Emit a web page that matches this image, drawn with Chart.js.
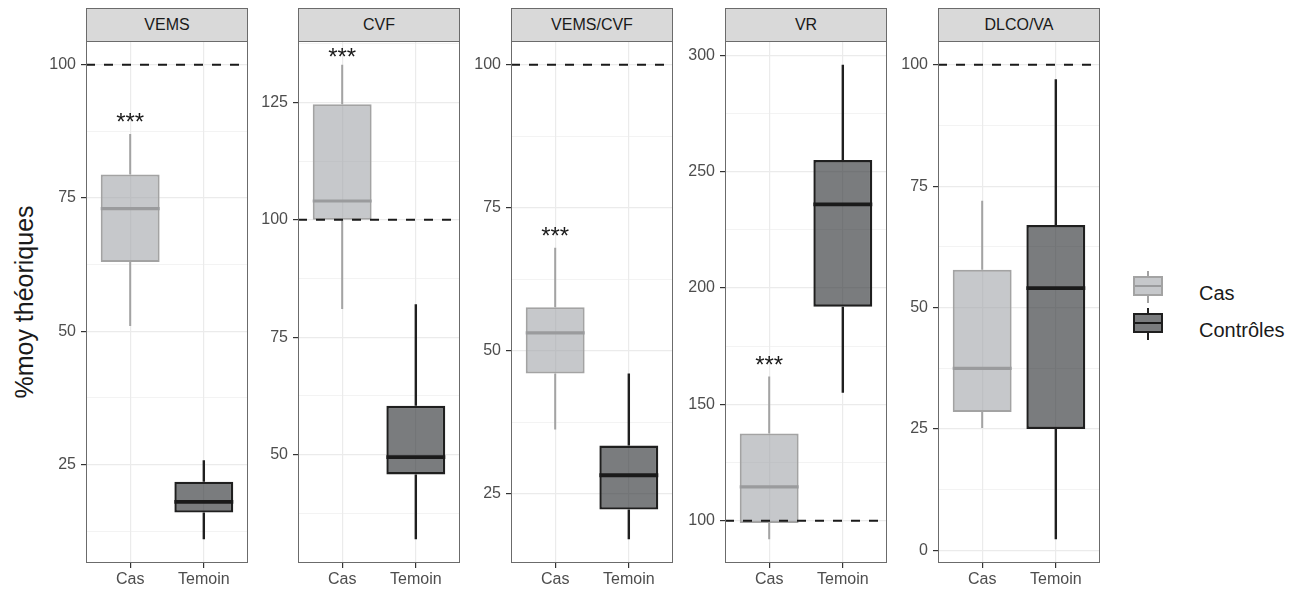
<!DOCTYPE html>
<html>
<head>
<meta charset="utf-8">
<script src="https://cdn.jsdelivr.net/npm/chart.js"></script>
<style>
  body { margin: 0; width: 1308px; height: 589px; background: #fff; position: relative; overflow: hidden;
         font-family: "Liberation Sans", Arial, sans-serif; }
  canvas { position: absolute; top: 0; }
  .strip { position: absolute; top: 8px; height: 34px; background: #d9d9d9; border: 1px solid #6b6b6b;
           box-sizing: border-box; text-align: center; line-height: 31px; font-size: 16px; color: #1a1a1a; }
  #ytitle { position: absolute; left: 24px; top: 302px; transform: translate(-50%, -50%) rotate(-90deg);
            white-space: nowrap; font-size: 25px; color: #1a1a1a; }
  .key { position: absolute; width: 30px; }
  .key .wh { position: absolute; left: 14px; width: 2px; }
  .key .bx { position: absolute; left: 0; width: 30px; box-sizing: border-box; }
  .key .md { position: absolute; left: 2px; width: 26px; height: 2px; }
  .lab { position: absolute; left: 1199px; font-size: 20px; color: #1a1a1a; transform: translateY(-50%); }
</style>
</head>
<body>
<div id="ytitle">%moy théoriques</div>

<script>
const panelNames = ['VEMS', 'CVF', 'VEMS/CVF', 'VR', 'DLCO/VA'];
const groups = ['Cas', 'Temoin'];
const legendLabels = ['Cas', 'Contrôles'];

// boxplot stats per panel: [whisker low, Q1, median, Q3, whisker high]
const casStats = [
  [51, 63, 73, 79.4, 87],
  [81, 100, 104, 124.6, 133],
  [36.2, 46, 53.1, 57.6, 68],
  [92, 99, 114.5, 137.5, 162],
  [25.2, 28.5, 37.5, 57.8, 72]
];
const temoinStats = [
  [11, 16, 18, 21.8, 25.8],
  [32, 45.8, 49.5, 60.4, 82],
  [17, 22.2, 28.2, 33.4, 46],
  [155, 192, 236, 255, 296],
  [2.3, 25, 54, 67, 97]
];
const refValue = 100;
const starLevels = [90, 135.5, 70.8, 168.5, null];
const yTickValues = [
  [25, 50, 75, 100],
  [50, 75, 100, 125],
  [25, 50, 75, 100],
  [100, 150, 200, 250, 300],
  [0, 25, 50, 75, 100]
];

// layout
const panelLefts = [86, 298, 511, 725, 938];
const panelW = 162, axisW = 50, plotTop = 41, plotBottom = 563, H = 589;
const xLim = [0.4, 2.6], boxWidth = 0.8;
const fontFamily = '"Liberation Sans", Arial, sans-serif';
const styles = [
  { fill: 'rgba(160,163,168,0.6)', line: '#a3a3a3', median: '#9a9b9d', lw: 2 },
  { fill: 'rgba(45,47,51,0.63)', line: '#1f1f1f', median: '#1a1a1a', lw: 2.4 }
];

function yRange(i) {
  const vals = casStats[i].concat(temoinStats[i], [refValue]);
  const lo = Math.min(...vals), hi = Math.max(...vals);
  const pad = (hi - lo) * 0.05;
  return [lo - pad, hi + pad];
}

function gridTicks(i, min, max) {
  const major = yTickValues[i];
  const step = major[1] - major[0];
  const out = major.map(v => ({ value: v }));
  [major[0] - step / 2].concat(major.map(v => v + step / 2))
    .filter(v => v > min && v < max)
    .forEach(v => out.push({ value: v, minor: true }));
  return out.sort((a, b) => a.value - b.value);
}

function boxSet(s, x, st) {
  return { type: 'bar', data: [{ x: x, y: [s[1], s[3]] }], backgroundColor: st.fill,
           borderColor: st.line, borderWidth: st.lw, borderSkipped: false, grouped: false,
           barPercentage: 1, categoryPercentage: boxWidth, order: 2 };
}
function whiskerSet(s, x, st) {
  return { type: 'line', data: [{ x: x, y: s[0] }, { x: x, y: s[1] }, { x: x, y: null }, { x: x, y: s[3] }, { x: x, y: s[4] }],
           borderColor: st.line, borderWidth: st.lw, pointRadius: 0, spanGaps: false, order: 3 };
}
function medianSet(s, x, st) {
  return { type: 'line', data: [{ x: x - boxWidth / 2, y: s[2] }, { x: x + boxWidth / 2, y: s[2] }],
           borderColor: st.median, borderWidth: st.lw * 1.6, pointRadius: 0, order: 1 };
}

const framePlugin = {
  id: 'frame',
  afterDraw(chart) {
    const a = chart.chartArea, ctx = chart.ctx;
    ctx.save();
    ctx.strokeStyle = '#6b6b6b';
    ctx.lineWidth = 1;
    ctx.strokeRect(a.left + 0.5, a.top + 0.5, a.right - a.left - 1, a.bottom - a.top - 1);
    ctx.restore();
  }
};

// significance marks above the "Cas" box
const starsPlugin = {
  id: 'stars',
  afterDatasetsDraw(chart, args, opts) {
    const v = starLevels[opts.panel];
    if (v == null) return;
    const ctx = chart.ctx, fs = 24;
    const x = chart.scales.x.getPixelForValue(1);
    const y = chart.scales.y.getPixelForValue(v);
    ctx.save();
    ctx.font = fs + 'px ' + fontFamily;
    ctx.fillStyle = '#1a1a1a';
    ctx.textAlign = 'center';
    ctx.textBaseline = 'alphabetic';
    ctx.fillText('***', x, y + 0.5 * fs);
    ctx.restore();
  }
};

panelNames.forEach((name, i) => {
  const left = panelLefts[i];
  const strip = document.createElement('div');
  strip.className = 'strip';
  strip.style.left = left + 'px';
  strip.style.width = panelW + 'px';
  strip.textContent = name;

  const cv = document.createElement('canvas');
  cv.width = axisW + panelW;
  cv.height = H;
  cv.style.left = (left - axisW) + 'px';
  document.body.appendChild(cv);
  document.body.appendChild(strip);

  const [ymin, ymax] = yRange(i);
  const datasets = [
    boxSet(casStats[i], 1, styles[0]),
    boxSet(temoinStats[i], 2, styles[1]),
    whiskerSet(casStats[i], 1, styles[0]),
    whiskerSet(temoinStats[i], 2, styles[1]),
    medianSet(casStats[i], 1, styles[0]),
    medianSet(temoinStats[i], 2, styles[1]),
    { type: 'line', data: [{ x: xLim[0], y: refValue }, { x: xLim[1], y: refValue }],
      borderColor: '#1a1a1a', borderWidth: 2, borderDash: [9, 9], pointRadius: 0, order: 0 }
  ];

  new Chart(cv.getContext('2d'), {
    type: 'bar',
    data: { datasets: datasets },
    plugins: [framePlugin, starsPlugin],
    options: {
      responsive: false,
      animation: false,
      layout: { padding: { top: plotTop, right: 0, bottom: 0, left: 0 } },
      plugins: { legend: { display: false }, tooltip: { enabled: false }, stars: { panel: i } },
      scales: {
        x: {
          type: 'linear', min: xLim[0], max: xLim[1], offset: false,
          afterBuildTicks: s => { s.ticks = groups.map((g, k) => ({ value: k + 1 })); },
          afterFit: s => { s.height = H - plotBottom; },
          grid: { offset: false, color: '#ebebeb', lineWidth: 1.2, tickColor: '#333', tickLength: 5, tickWidth: 1.2 },
          border: { display: false },
          ticks: { autoSkip: false, maxRotation: 0, padding: 2, color: '#4d4d4d',
                   font: { size: 16, family: fontFamily },
                   callback: v => groups[v - 1] }
        },
        y: {
          min: ymin, max: ymax,
          afterBuildTicks: s => { s.ticks = gridTicks(i, ymin, ymax); },
          afterFit: s => { s.width = axisW; },
          grid: {
            color: '#ebebeb',
            lineWidth: c => (c.tick && c.tick.minor) ? 0.6 : 1.2,
            tickColor: c => (c.tick && c.tick.minor) ? 'rgba(0,0,0,0)' : '#333',
            tickLength: 5, tickWidth: 1.2
          },
          border: { display: false },
          ticks: { padding: 5, color: '#4d4d4d', autoSkip: false,
                   font: { size: 16, family: fontFamily },
                   callback: (v, k, t) => t[k].minor ? '' : v }
        }
      }
    }
  });
});

// legend
const keyTops = [271, 308];
legendLabels.forEach((label, k) => {
  const st = styles[k], top = keyTops[k];
  const key = document.createElement('div');
  key.className = 'key';
  key.style.left = '1133px';
  key.style.top = top + 'px';
  key.style.height = '32px';
  key.innerHTML =
    '<div class="wh" style="top:0;height:32px;background:' + st.line + '"></div>' +
    '<div class="bx" style="top:5px;height:20px;background:#fff"></div>' +
    '<div class="bx" style="top:5px;height:20px;background:' + st.fill + ';border:' + st.lw + 'px solid ' + st.line + '"></div>' +
    '<div class="md" style="top:14px;background:' + st.median + '"></div>';
  document.body.appendChild(key);
  const lab = document.createElement('div');
  lab.className = 'lab';
  lab.style.top = (top + 22 + k * 0) + 'px';
  lab.textContent = label;
  document.body.appendChild(lab);
});
</script>
</body>
</html>
